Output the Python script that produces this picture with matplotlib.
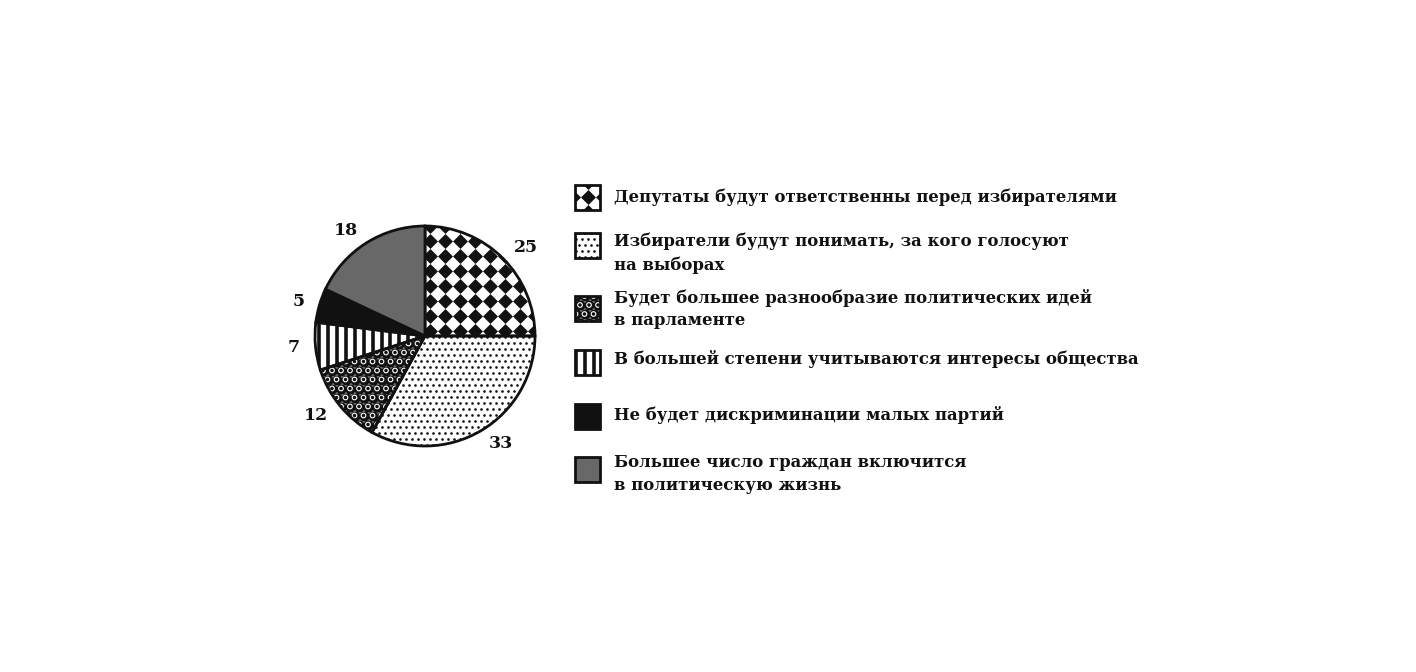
import matplotlib
matplotlib.use('Agg')
import numpy as np
import matplotlib.pyplot as plt
from matplotlib.patches import Rectangle

# data
values = [25, 33, 12, 7, 5, 18]
answers = [
    "Депутаты будут ответственны перед избирателями",
    "Избиратели будут понимать, за кого голосуют\nна выборах",
    "Будет большее разнообразие политических идей\nв парламенте",
    "В большей степени учитываются интересы общества",
    "Не будет дискриминации малых партий",
    "Большее число граждан включится\nв политическую жизнь",
]
fills = ["diamond", "dots", "circles", "stripes", "black", "gray"]

W, H = 1416, 672
FONT = "DejaVu Serif"
INK = "#111111"
GRAY = "#686868"


def texture(ax, patch, kind, box, unit):
    # fill patch with a clipped pattern; box = (x0, x1, y0, y1), unit = pixels per data unit
    x0, x1, y0, y1 = box
    arts = []
    if kind == "diamond":
        st = 15.0 / unit
        xs, ys = np.meshgrid(np.arange(x0, x1 + st, st), np.arange(y0, y1 + st, st))
        arts.append(ax.scatter(xs.ravel(), ys.ravel(), marker="D", s=58, c=INK, lw=0, zorder=0.5))
    elif kind == "dots":
        st = 6.0 / unit
        xs, ys = np.meshgrid(np.arange(x0, x1 + st, st), np.arange(y0, y1 + st, st))
        xs = xs + (np.arange(xs.shape[0])[:, None] % 2) * st / 2
        arts.append(ax.scatter(xs.ravel(), ys.ravel(), marker="o", s=3.6, c=INK, lw=0, zorder=0.5))
    elif kind == "circles":
        st = 9.0 / unit
        xs, ys = np.meshgrid(np.arange(x0, x1 + st, st), np.arange(y0, y1 + st, st))
        xs = xs + (np.arange(xs.shape[0])[:, None] % 2) * st / 2
        arts.append(ax.scatter(xs.ravel(), ys.ravel(), marker="o", s=56, c=INK, lw=0, zorder=0.5))
        arts.append(ax.scatter(xs.ravel(), ys.ravel(), marker="o", s=11, facecolors="none",
                               edgecolors="white", lw=0.8, zorder=0.6))
    elif kind == "stripes":
        st = 9.0 / unit
        for x in np.arange(x0, x1 + st, st):
            ln, = ax.plot([x, x], [y0, y1], color=INK, lw=2.6, zorder=0.5, solid_capstyle="butt")
            arts.append(ln)
    for a in arts:
        a.set_clip_path(patch)


fig = plt.figure(figsize=(W / 100, H / 100), dpi=100)
fig.patch.set_facecolor("white")

# pie: centre (425, 336), radius 110 px
cx, cy, r = 425, 336, 110
ax = fig.add_axes([(cx - r) / W, (H - cy - r) / H, 2 * r / W, 2 * r / H])

face = {"black": INK, "gray": GRAY}
wedges, texts = ax.pie(values, labels=[str(v) for v in values], startangle=90, counterclock=False,
                       labeldistance=1.14, radius=1.0,
                       colors=[face.get(f, "none") for f in fills],
                       wedgeprops=dict(edgecolor=INK, linewidth=2.0),
                       textprops=dict(fontfamily=FONT, fontweight="bold", fontsize=12.5, color=INK))
ax.set_xlim(-1.0, 1.0)
ax.set_ylim(-1.0, 1.0)
ax.set_aspect("equal")
ax.axis("off")
for w in wedges:
    w.set_clip_on(False)
for t in texts:
    t.set_clip_on(False)
for w, f in zip(wedges, fills):
    texture(ax, w, f, (-1.05, 1.05, -1.05, 1.05), r)

# legend in pixel coordinates
lg = fig.add_axes([0, 0, 1, 1])
lg.set_xlim(0, W)
lg.set_ylim(H, 0)
lg.axis("off")
text_y = [197, 253, 309, 359, 415, 474]
box_y = [197, 245, 308, 362, 416, 469]
for txt, f, ty, by in zip(answers, fills, text_y, box_y):
    bx = Rectangle((575, by - 12.5), 25, 25, facecolor=face.get(f, "none"),
                   edgecolor=INK, linewidth=2.0, zorder=2)
    lg.add_patch(bx)
    texture(lg, bx, f, (587.5 - 30, 587.5 + 30, by - 30, by + 30), 1.0)
    lg.text(614, ty, txt, fontfamily=FONT, fontweight="bold", fontsize=11.9, color=INK,
            va="center", ha="left", linespacing=1.45)

fig.savefig("out.png", dpi=100, facecolor="white")
